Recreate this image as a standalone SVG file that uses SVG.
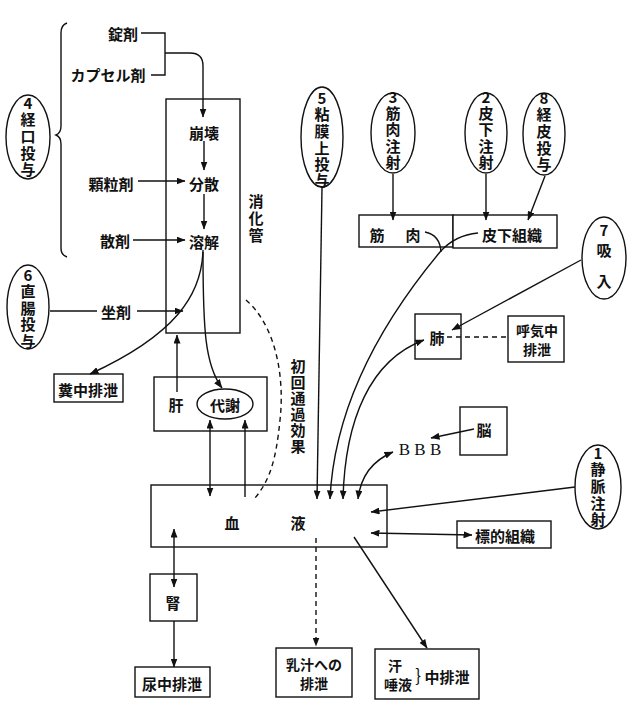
<svg xmlns="http://www.w3.org/2000/svg" width="628" height="716" viewBox="0 0 628 716">
<style>
.b{fill:#fff;stroke:#111;stroke-width:1.4}
.l{fill:none;stroke:#111;stroke-width:1.4}
.d{fill:none;stroke:#111;stroke-width:1.4;stroke-dasharray:5 4}
text{font-family:"Noto Sans CJK JP","Noto Sans",sans-serif;font-size:15px;fill:#111;text-anchor:middle;dominant-baseline:central;font-weight:bold}
.s{font-size:14px}
</style>
<defs>
<marker id="a" markerUnits="userSpaceOnUse" markerWidth="9" markerHeight="7" refX="8.5" refY="3.5" orient="auto-start-reverse"><path d="M0,0 L9,3.5 L0,7 z" fill="#111"/></marker>
</defs>
<rect width="628" height="716" fill="#fff"/>

<g id="brace"><path class="l" d="M67,23 Q61,25 61,33 V126 Q61,133 56,135 Q61,137 61,144 V248 Q61,255 67,257"/></g>

<g id="oral">
<ellipse class="b" cx="28" cy="137" rx="22" ry="42"/>
<text x="28" y="102">4</text><text x="28" y="118">経</text><text x="28" y="135">口</text><text x="28" y="152">投</text><text x="28" y="168">与</text>
</g>
<g id="rectal">
<ellipse class="b" cx="28" cy="307" rx="21" ry="42"/>
<text x="28" y="274">6</text><text x="28" y="290">直</text><text x="28" y="307">腸</text><text x="28" y="323">投</text><text x="28" y="340">与</text>
</g>
<g id="mucosal">
<ellipse class="b" cx="322" cy="137" rx="21" ry="50"/>
<text x="322" y="97">5</text><text x="322" y="113">粘</text><text x="322" y="130">膜</text><text x="322" y="147">上</text><text x="322" y="163">投</text><text x="322" y="179">与</text>
</g>
<g id="im">
<ellipse class="b" cx="393" cy="133" rx="22" ry="40"/>
<text x="393" y="96">3</text><text x="393" y="112">筋</text><text x="393" y="128">肉</text><text x="393" y="145">注</text><text x="393" y="161">射</text>
</g>
<g id="sc">
<ellipse class="b" cx="486" cy="133" rx="21" ry="40"/>
<text x="486" y="96">2</text><text x="486" y="112">皮</text><text x="486" y="128">下</text><text x="486" y="145">注</text><text x="486" y="161">射</text>
</g>
<g id="td">
<ellipse class="b" cx="544" cy="134" rx="21" ry="41"/>
<text x="544" y="97">8</text><text x="544" y="113">経</text><text x="544" y="130">皮</text><text x="544" y="147">投</text><text x="544" y="163">与</text>
</g>
<g id="inh">
<ellipse class="b" cx="604" cy="258" rx="22" ry="41"/>
<text x="604" y="229">7</text><text x="604" y="249">吸</text><text x="604" y="280">入</text>
</g>
<g id="iv">
<ellipse class="b" cx="598" cy="487" rx="23" ry="42"/>
<text x="598" y="452">1</text><text x="598" y="468">静</text><text x="598" y="485">脈</text><text x="598" y="502">注</text><text x="598" y="518">射</text>
</g>

<g id="gi">
<rect class="b" x="166" y="99" width="74" height="234"/>
<text x="204" y="132">崩壊</text><text x="204" y="183">分散</text><text x="204" y="241">溶解</text>
<text x="256" y="200">消</text><text x="256" y="217">化</text><text x="256" y="234">管</text>
</g>
<g id="forms">
<text x="123" y="33">錠剤</text>
<text x="108" y="74">カプセル剤</text>
<text x="111" y="183">顆粒剤</text>
<text x="115" y="240">散剤</text>
<text x="116" y="311">坐剤</text>
</g>
<g id="feces"><rect class="b" x="54" y="374" width="69" height="28"/><text x="88" y="389">糞中排泄</text></g>
<g id="liver">
<rect class="b" x="154" y="377" width="113" height="54"/>
<text x="176" y="404">肝</text>
<ellipse class="b" cx="225" cy="404" rx="28" ry="15"/>
<text x="225" y="404">代謝</text>
</g>
<g id="fpe"><text x="298" y="365">初</text><text x="298" y="381">回</text><text x="298" y="397">通</text><text x="298" y="413">過</text><text x="298" y="429">効</text><text x="298" y="445">果</text></g>
<g id="blood"><rect class="b" x="151" y="485" width="236" height="62"/><text x="232" y="522">血</text><text x="298" y="522">液</text></g>
<g id="muscle"><rect class="b" x="359" y="215" width="94" height="32"/><text x="377" y="234">筋</text><text x="413" y="234">肉</text></g>
<g id="subcut"><rect class="b" x="453" y="215" width="104" height="33"/><text x="512" y="234">皮下組織</text></g>
<g id="lung"><rect class="b" x="415" y="314" width="46" height="45"/><text x="437" y="337">肺</text></g>
<g id="breath"><rect class="b" x="508" y="316" width="56" height="46"/><text class="s" x="537" y="330">呼気中</text><text class="s" x="537" y="349">排泄</text></g>
<g id="brain"><rect class="b" x="460" y="407" width="47" height="48"/><text x="484" y="429">脳</text></g>
<g id="bbb"><text x="420" y="449" style="font-family:'Liberation Serif',serif;font-size:17px;font-weight:normal">B B B</text></g>
<g id="target"><rect class="b" x="457" y="521" width="94" height="27"/><text x="505" y="535">標的組織</text></g>
<g id="kidney"><rect class="b" x="150" y="574" width="47" height="47"/><text x="173" y="602">腎</text></g>
<g id="urine"><rect class="b" x="135" y="667" width="75" height="30"/><text x="172" y="683">尿中排泄</text></g>
<g id="milk"><rect class="b" x="276" y="648" width="76" height="49"/><text class="s" x="314" y="664">乳汁への</text><text class="s" x="314" y="683">排泄</text></g>
<g id="sweat"><rect class="b" x="375" y="649" width="104" height="50"/><text class="s" x="395" y="665">汗</text><text class="s" x="398" y="684">唾液</text><text x="418" y="674" style="font-weight:normal;font-size:17px">}</text><text x="447" y="676">中排泄</text></g>

<g id="connectors">
<path class="l" d="M141,33 H165 V75 H151"/>
<path class="l" d="M165,53 H190 Q203,53 203,66 V117" marker-end="url(#a)"/>
<path class="l" d="M204,141 V170" marker-end="url(#a)"/>
<path class="l" d="M138,181 H185" marker-end="url(#a)"/>
<path class="l" d="M204,194 V229" marker-end="url(#a)"/>
<path class="l" d="M133,240 H185" marker-end="url(#a)"/>
<path class="l" d="M50,311 H97"/>
<path class="l" d="M137,311 H183" marker-end="url(#a)"/>
<path class="l" d="M203,250 C202,295 175,335 90,374" marker-end="url(#a)"/>
<path class="l" d="M203,252 C203,330 205,365 222,388" marker-end="url(#a)"/>
<path class="l" d="M177,392 V335" marker-end="url(#a)"/>
<path class="l" d="M210,420 V496" marker-start="url(#a)" marker-end="url(#a)"/>
<path class="l" d="M245,497 V420" marker-end="url(#a)"/>
<path class="d" d="M246,300 C275,325 285,375 280,420 C276,460 270,480 255,498"/>
<path class="l" d="M322,188 L317,499" marker-end="url(#a)"/>
<path class="l" d="M393,174 V220" marker-end="url(#a)"/>
<path class="l" d="M486,174 V220" marker-end="url(#a)"/>
<path class="l" d="M545,176 L528,220" marker-end="url(#a)"/>
<path class="l" d="M425,232 Q440,235 441,252"/>
<path class="l" d="M478,233 Q455,235 440,252 C400,300 335,390 330,499" marker-end="url(#a)"/>
<path class="l" d="M343,499 C345,420 370,360 424,340" marker-start="url(#a)" marker-end="url(#a)"/>
<path class="l" d="M581,260 L452,330" marker-end="url(#a)"/>
<path class="d" d="M447,337 H510"/>
<path class="l" d="M358,499 Q362,465 393,452" marker-start="url(#a)" marker-end="url(#a)"/>
<path class="l" d="M474,429 L431,438" marker-end="url(#a)"/>
<path class="l" d="M575,487 L371,512" marker-end="url(#a)"/>
<path class="l" d="M371,533 L472,535" marker-start="url(#a)" marker-end="url(#a)"/>
<path class="l" d="M354,537 L427,648" marker-end="url(#a)"/>
<path class="d" d="M316,538 V646" marker-end="url(#a)"/>
<path class="l" d="M174,529 V587" marker-start="url(#a)" marker-end="url(#a)"/>
<path class="l" d="M174,621 V667" marker-end="url(#a)"/>
</g>
</svg>
